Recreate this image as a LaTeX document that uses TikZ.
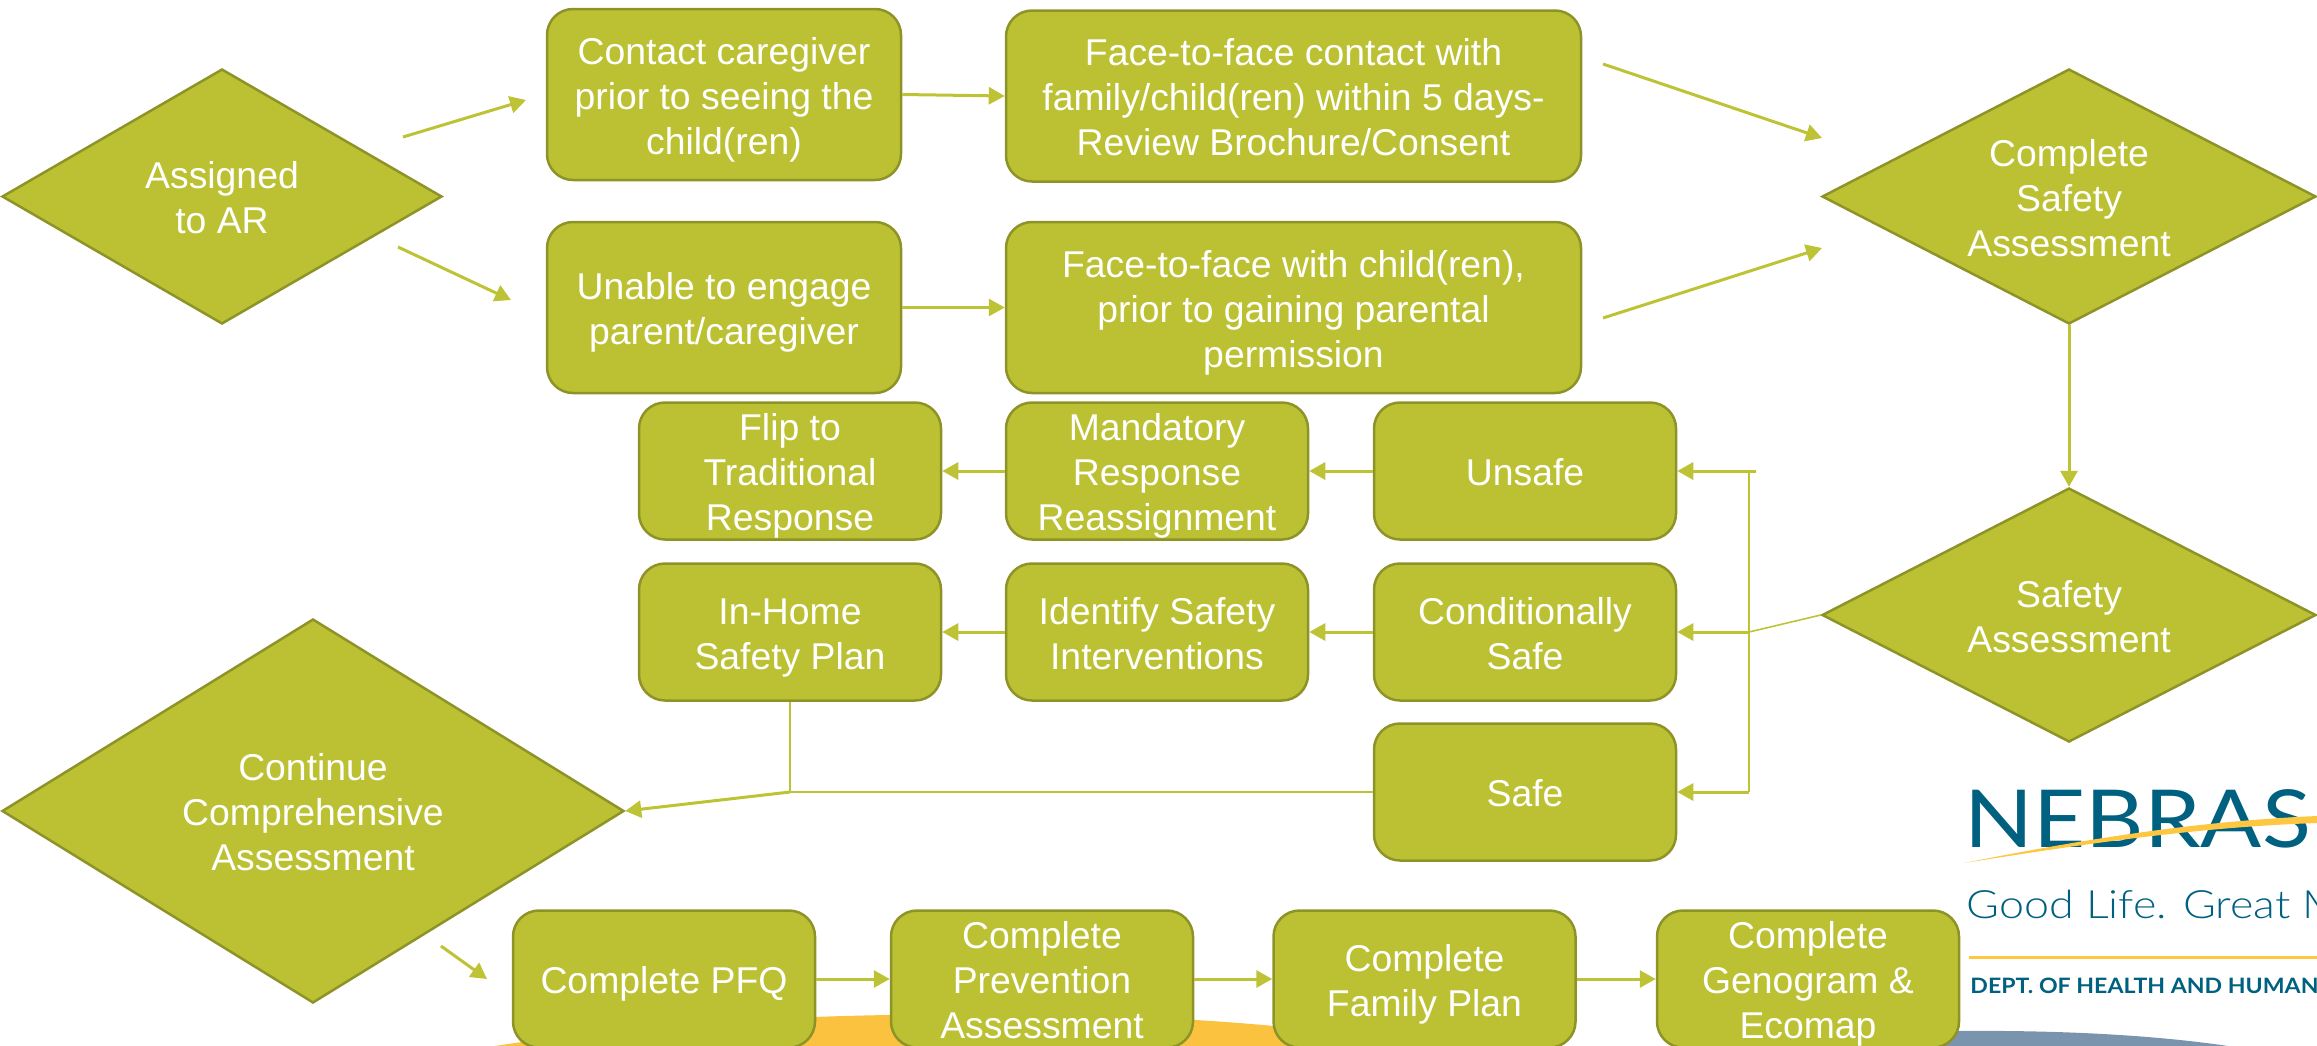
\documentclass[tikz,border=0pt]{standalone}
\usepackage{fontspec}
\setmainfont{Liberation Sans}
\newfontfamily\logofont[FakeStretch=1.15]{Lato Light}
\newfontfamily\logoname[FakeStretch=1.13]{Lato}
\newfontfamily\logobold[FakeStretch=1.09]{Lato}
\usetikzlibrary{shapes.geometric,arrows.meta}
\definecolor{olive}{HTML}{BBC133}
\definecolor{oliveedge}{HTML}{8E9327}
\definecolor{linkc}{HTML}{BDC335}
\definecolor{logoblue}{HTML}{00607F}
\definecolor{logoyellow}{HTML}{FDC741}
\definecolor{bandorange}{HTML}{FBC23F}
\definecolor{bandblue}{HTML}{7A94AE}
\tikzset{
  x=0.5pt,y=-0.5pt,
  oneline/.style={text height=19.9pt},
  twolines/.style={text height=42.3pt},
  threelines/.style={text height=64.7pt},
  boxtext/.style={text=white,align=center,font=\fontsize{18.67}{22.4}\selectfont,text depth=5.2pt},
  stepbox/.style={boxtext,draw=oliveedge,fill=olive,line width=1.25pt,rounded corners=13pt,inner sep=0pt,minimum width=#1},
  tallbox/.style={stepbox=#1,minimum height=85.5pt},
  midbox/.style={stepbox=151pt,inner ysep=-3pt,minimum height=68.5pt},
  choice/.style args={#1/#2}{boxtext,shape=diamond,draw=oliveedge,fill=olive,line width=1.25pt,inner sep=-8pt,minimum width=#1,minimum height=#2,aspect=1.8},
  link/.style={draw=linkc,line width=1.5pt,-{Triangle[length=8pt,width=8.5pt]}},
  thin link/.style={draw=linkc,line width=0.8pt},
}
\begin{document}
\begin{tikzpicture}
\useasboundingbox (0,0) rectangle (2317,1045);
\clip (0,0) rectangle (2317,1045);
% bottom bands
\fill[bandorange] (495,1046) .. controls (650,1022) and (800,1014) .. (1000,1014) .. controls (1100,1014) and (1200,1019) .. (1274,1026) .. controls (1330,1032) and (1380,1040) .. (1420,1050) -- (495,1050) -- cycle;
\fill[bandblue] (1900,1060) -- (1950,1031) .. controls (2050,1030) and (2150,1034) .. (2235,1047) -- (2235,1060) -- cycle;
% logo
\node[anchor=base west,inner sep=0pt,text=logoblue,font=\logoname\fontsize{40}{40}\selectfont] (lgname) at (1964,847) {NEBRAS};
\fill[logoyellow] (1964,863) .. controls (2090,838) and (2200,821) .. (2317,816) -- (2317,823) .. controls (2200,827) and (2090,843) .. (1964,863) -- cycle;
\node[anchor=base west,inner sep=0pt,text=logoblue,font=\logofont\fontsize{19.5}{20}\selectfont] (lgtag) at (1966,918) {Good Life. Great M};
\fill[logoyellow] (1969,955.5) rectangle (2317,958.5);
\node[anchor=base west,inner sep=0pt,text=logoblue,font=\logobold\bfseries\fontsize{10.6}{11}\selectfont] (lgdept) at (1970,993) {DEPT. OF HEALTH AND HUMAN};
% decisions
\node[twolines,choice=220pt/127.5pt,aspect=1.73] (assigned) at (222,196.5) {Assigned\\to AR};
\node[threelines,choice=247pt/127.5pt,aspect=1.94] (complete) at (2069,196.5) {Complete\\Safety\\Assessment};
\node[twolines,choice=247pt/127pt,aspect=1.94] (safety) at (2069,615) {Safety\\Assessment};
\node[threelines,choice=311pt/192pt,aspect=1.62] (continue) at (313,811) {Continue\\Comprehensive\\Assessment};
% boxes
\node[threelines,tallbox=177pt] (contact) at (724,94.5) {Contact caregiver\\prior to seeing the\\child(ren)};
\node[threelines,tallbox=287.5pt] (face) at (1293.5,96) {Face-to-face contact with\\family/child(ren) within 5 days-\\Review Brochure/Consent};
\node[twolines,tallbox=177pt] (unable) at (724,307.5) {Unable to engage\\parent/caregiver};
\node[threelines,tallbox=287.5pt] (facetwo) at (1293.5,307.5) {Face-to-face with child(ren),\\prior to gaining parental\\permission};
\node[threelines,midbox] (flip) at (790,471) {Flip to\\Traditional\\Response};
\node[threelines,midbox] (mandatory) at (1157,471) {Mandatory\\Response\\Reassignment};
\node[oneline,midbox] (unsafe) at (1525,471) {Unsafe};
\node[twolines,midbox] (inhome) at (790,632) {In-Home\\Safety Plan};
\node[twolines,midbox] (identify) at (1157,632) {Identify Safety\\Interventions};
\node[twolines,midbox] (condsafe) at (1525,632) {Conditionally\\Safe};
\node[oneline,midbox] (safe) at (1525,792) {Safe};
\node[oneline,midbox] (pfq) at (664,979) {Complete PFQ};
\node[threelines,midbox] (prevention) at (1042,979) {Complete\\Prevention\\Assessment};
\node[twolines,midbox] (family) at (1424.5,979) {Complete\\Family Plan};
\node[threelines,midbox] (genogram) at (1808,979) {Complete\\Genogram \&\\Ecomap};
% free ends
\coordinate (a1s) at (403,137); \coordinate (a1e) at (526,100);
\coordinate (a2s) at (398,247); \coordinate (a2e) at (511,300);
\coordinate (b1s) at (1603,64); \coordinate (b1e) at (1822,138);
\coordinate (b2s) at (1603,318); \coordinate (b2e) at (1822,248);
\coordinate (c1s) at (441,946); \coordinate (c1e) at (487,979);
\coordinate (busT) at (1756,471); \coordinate (busTop) at (1749,471);
\coordinate (busMid) at (1749,632); \coordinate (busBot) at (1749,792);
\coordinate (joint) at (790,792);
% connectors
\draw[link] (a1s) -- (a1e);
\draw[link] (a2s) -- (a2e);
\draw[link] (contact.east) -- (face.west);
\draw[link] (unable.east) -- (facetwo.west);
\draw[link] (b1s) -- (b1e);
\draw[link] (b2s) -- (b2e);
\draw[link] (complete.south) -- (safety.north);
\draw[link] (busT) -- (unsafe.east);
\draw[link] (busMid) -- (condsafe.east);
\draw[link] (busBot) -- (safe.east);
\draw[thin link] (safety.west) -- (busMid);
\draw[thin link] (busTop) -- (busBot);
\draw[link] (unsafe.west) -- (mandatory.east);
\draw[link] (mandatory.west) -- (flip.east);
\draw[link] (condsafe.west) -- (identify.east);
\draw[link] (identify.west) -- (inhome.east);
\draw[thin link] (safe.west) -- (joint);
\draw[thin link] (inhome.south) -- (joint);
\draw[link] (joint) -- (continue.east);
\draw[link] (c1s) -- (c1e);
\draw[link] (pfq.east) -- (prevention.west);
\draw[link] (prevention.east) -- (family.west);
\draw[link] (family.east) -- (genogram.west);
\end{tikzpicture}
\end{document}
